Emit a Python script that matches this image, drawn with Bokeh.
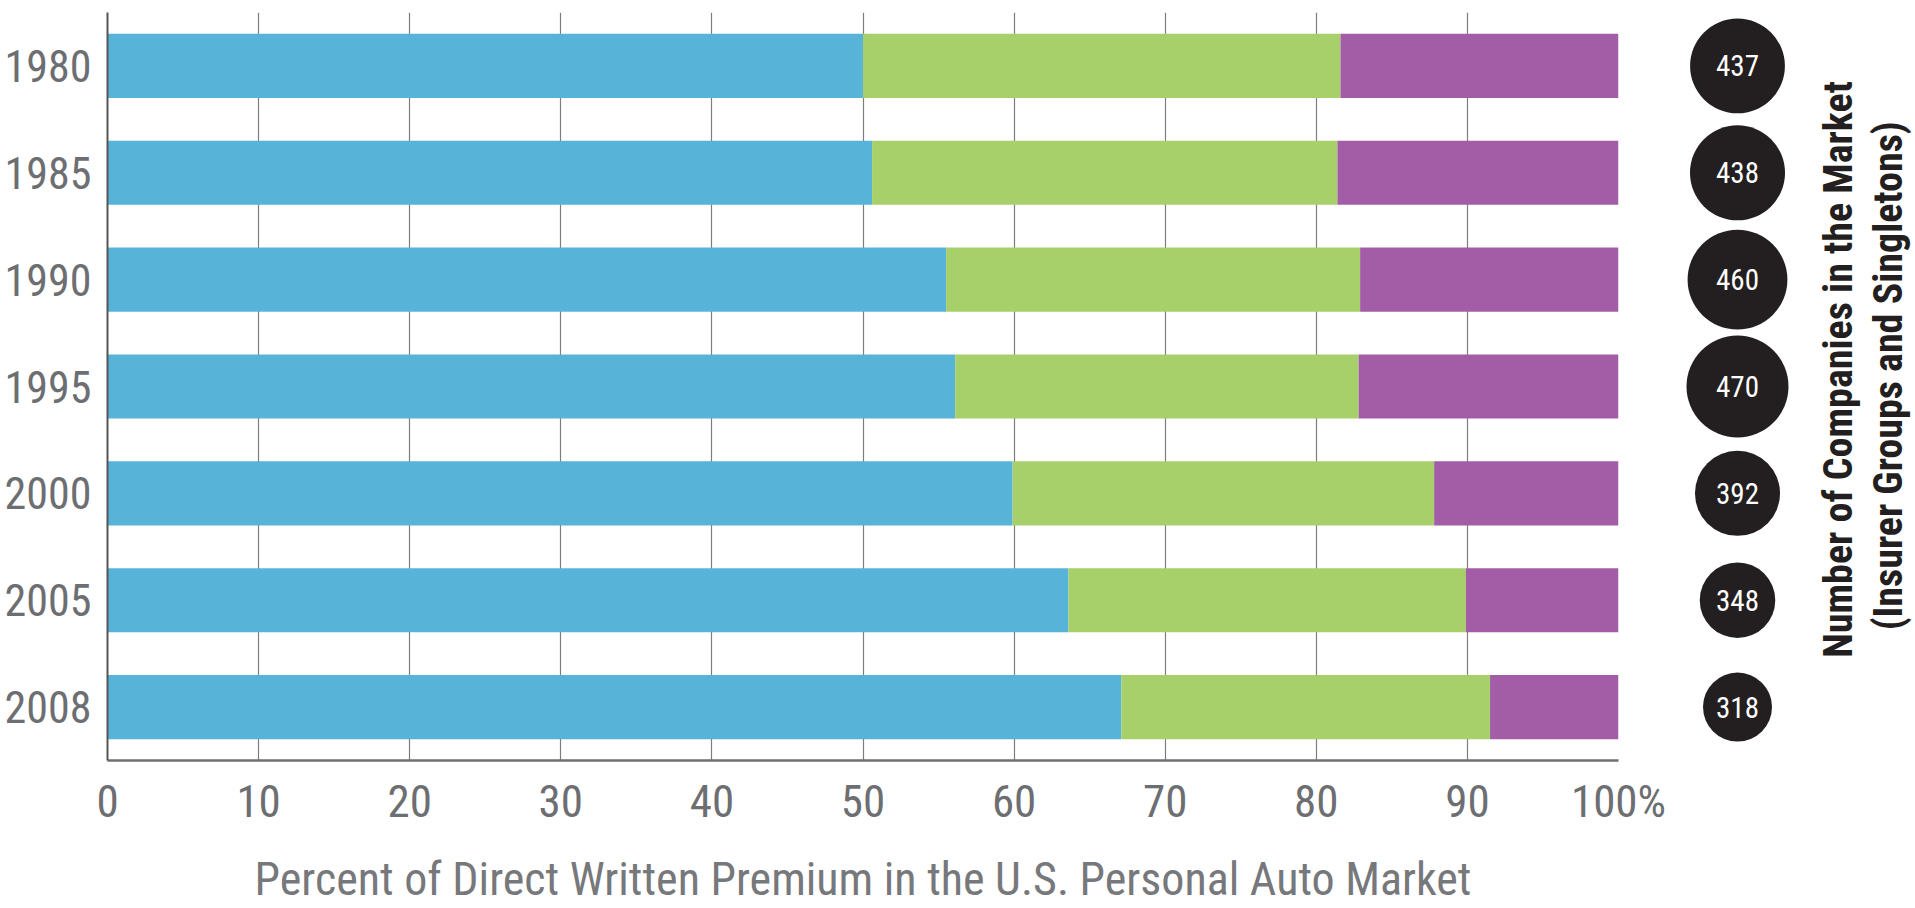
import math
from bokeh.plotting import figure
from bokeh.layouts import row
from bokeh.models import Range1d, FactorRange, FixedTicker, Label, ColumnDataSource
from bokeh.core.properties import value
from bokeh.embed import file_html
from bokeh.resources import INLINE

# ---------------- data ----------------
years = ["1980", "1985", "1990", "1995", "2000", "2005", "2008"]
share_first = [50.0, 50.6, 55.5, 56.1, 59.9, 63.6, 67.1]
share_second = [31.6, 30.8, 27.4, 26.7, 27.9, 26.3, 24.4]
share_third = [18.4, 18.6, 17.1, 17.2, 12.2, 10.1, 8.5]
companies = [437, 438, 460, 470, 392, 348, 318]
x_ticks = [0, 10, 20, 30, 40, 50, 60, 70, 80, 90, 100]
x_tick_labels = ["0", "10", "20", "30", "40", "50", "60", "70", "80", "90", "100%"]
x_title = "Percent of Direct Written Premium in the U.S. Personal Auto Market"
right_title_1 = "Number of Companies in the Market"
right_title_2 = "(Insurer Groups and Singletons)"

# ---------------- style ----------------
FONT = "'Roboto Condensed', 'Open Sans', sans-serif"
COLORS = ["#58b3d8", "#a8d06a", "#a25da6"]
GRAY = "#6d6e71"
DARK = "#231f20"
H = 908
TOP, BOTTOM = 12, 146
MAIN_W, LEFT, RIGHT = 1670, 107, 52
SIDE_W = 245
CIRCLE_X = 67          # px inside side panel
DOT_SCALE = 0.217      # bubble diameter (px) per company

src = ColumnDataSource(dict(
    year=years, a=share_first, b=share_second, c=share_third,
    n=[str(v) for v in companies],
    dot=[v * DOT_SCALE for v in companies],
))

# ---------------- main stacked bar chart ----------------
p = figure(width=MAIN_W, height=H, output_backend="svg", toolbar_location=None,
           x_range=Range1d(0, 100), y_range=FactorRange(factors=years[::-1]),
           min_border_left=LEFT, min_border_top=TOP, min_border_bottom=BOTTOM,
           min_border_right=RIGHT)
p.outline_line_color = None

p.hbar_stack(["a", "b", "c"], y="year", height=0.6, color=COLORS,
             line_color=None, source=src)

p.ygrid.grid_line_color = None
p.xgrid.ticker = FixedTicker(ticks=x_ticks)
p.xgrid.grid_line_color = "#7d7d7d"
p.xgrid.grid_line_width = 1.2

xa = p.xaxis[0]
xa.ticker = FixedTicker(ticks=x_ticks)
xa.major_label_overrides = {t: l for t, l in zip(x_ticks, x_tick_labels)}
xa.axis_line_color = "#6f6f6f"
xa.axis_line_width = 2.5
xa.major_tick_line_color = None
xa.minor_tick_line_color = None
xa.major_tick_out = 0
xa.major_tick_in = 0
xa.major_label_standoff = 14
xa.major_label_text_font = FONT
xa.major_label_text_font_size = "45px"
xa.major_label_text_color = GRAY
xa.axis_label = x_title
xa.axis_label_text_font = FONT
xa.axis_label_text_font_size = "46px"
xa.axis_label_text_font_style = "normal"
xa.axis_label_text_color = "#77787b"
xa.axis_label_standoff = 21

ya = p.yaxis[0]
ya.axis_line_color = "#555555"
ya.axis_line_width = 2
ya.major_tick_line_color = None
ya.minor_tick_line_color = None
ya.major_tick_out = 0
ya.major_tick_in = 0
ya.major_label_standoff = 16
ya.major_label_text_font = FONT
ya.major_label_text_font_size = "44px"
ya.major_label_text_color = GRAY

# ---------------- side panel: company counts ----------------
s = figure(width=SIDE_W, height=H, output_backend="svg", toolbar_location=None,
           x_range=Range1d(0, SIDE_W), y_range=FactorRange(factors=years[::-1]),
           x_axis_location=None, y_axis_location=None,
           min_border_left=0, min_border_right=0, min_border_top=TOP,
           min_border_bottom=BOTTOM)
s.outline_line_color = None
s.grid.grid_line_color = None

s.scatter(x=CIRCLE_X, y="year", size="dot", source=src, fill_color=DARK,
          line_color=None)
s.text(x=CIRCLE_X, y="year", text="n", source=src, text_color="white",
       text_font=value(FONT), text_font_size="29px", text_align="center",
       text_baseline="middle")

mid = len(years) / 2
for xx, txt, dy in [(168, right_title_1, 0.16), (218, right_title_2, 0.1)]:
    s.add_layout(Label(x=xx, y=mid + dy, text=txt, angle=math.pi / 2,
                       text_align="center", text_baseline="middle",
                       text_font=FONT, text_font_size="40px",
                       text_font_style="bold", text_color=DARK))

layout = row(p, s)
open("out.html", "w").write(file_html(layout, INLINE))
